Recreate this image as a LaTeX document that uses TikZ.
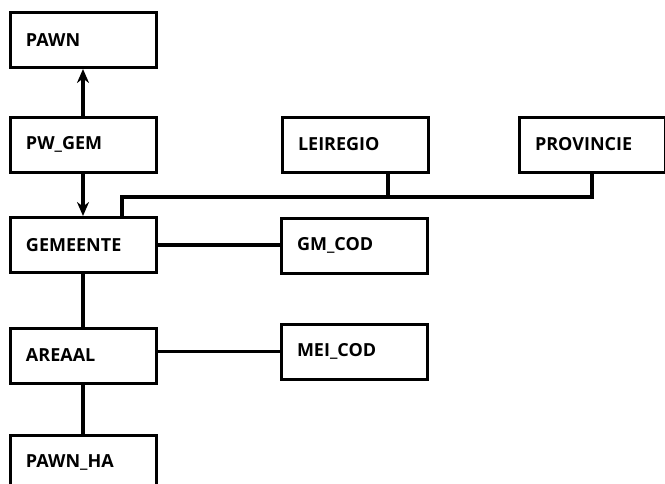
\documentclass[tikz,border=0pt]{standalone}
\usepackage{fontspec}
\setmainfont{Open Sans}
\usetikzlibrary{positioning,arrows.meta}
\tikzset{
	tabel/.style={draw, line width=3pt, minimum width=146pt, minimum height=55pt, text width=114pt, inner xsep=16pt, align=left, font=\bfseries\fontsize{18}{20}\selectfont},
	lijn/.style={line width=3.4pt}
}
\begin{document}
\begin{tikzpicture}[x=1pt, y=-1pt, line join=miter, >={Stealth[length=14pt,width=12pt]}]
	\useasboundingbox (0,0) rectangle (665,483);
	\clip (0,0) rectangle (665,483);
	% linker kolom
	\node[tabel] (pawn) at (83,40) {PAWN};
	\node[tabel] (pwgem) at (83,144.5) {PW\_GEM};
	\node[tabel] (gemeente) at (83,245) {GEMEENTE};
	\node[tabel] (areaal) at (83,355.5) {AREAAL};
	\node[tabel] (pawnha) at (83,462.5) {PAWN\_HA};
	% rechter kolommen
	\node[tabel] (leiregio) at (355,144.5) {LEIREGIO};
	\node[tabel] (provincie) at (592,144.5) {PROVINCIE};
	\node[tabel] (gmcod) at (354,245.5) {GM\_COD};
	\node[tabel] (meicod) at (354,351.5) {MEI\_COD};
	% verbindingen
	\draw[lijn,->] (pwgem.north) -- (pawn.south);
	\draw[lijn,->] (pwgem.south) -- (gemeente.north);
	\draw[lijn] (gemeente.south) -- (areaal.north);
	\draw[lijn] (areaal.south) -- (pawnha.north);
	\draw[lijn] (gemeente.east) -- (gemeente.east-|gmcod.west);
	\draw[lijn] (areaal.east|-meicod.west) -- (meicod.west);
	% regio's
	\coordinate (bus) at (122,197);
	\draw[lijn] (bus|-gemeente.north) -- (bus) -- (bus-|provincie.south) -- (provincie.south);
	\draw[lijn] (leiregio.south) ++(33,0) coordinate (lr) -- (lr|-bus);
\end{tikzpicture}
\end{document}
